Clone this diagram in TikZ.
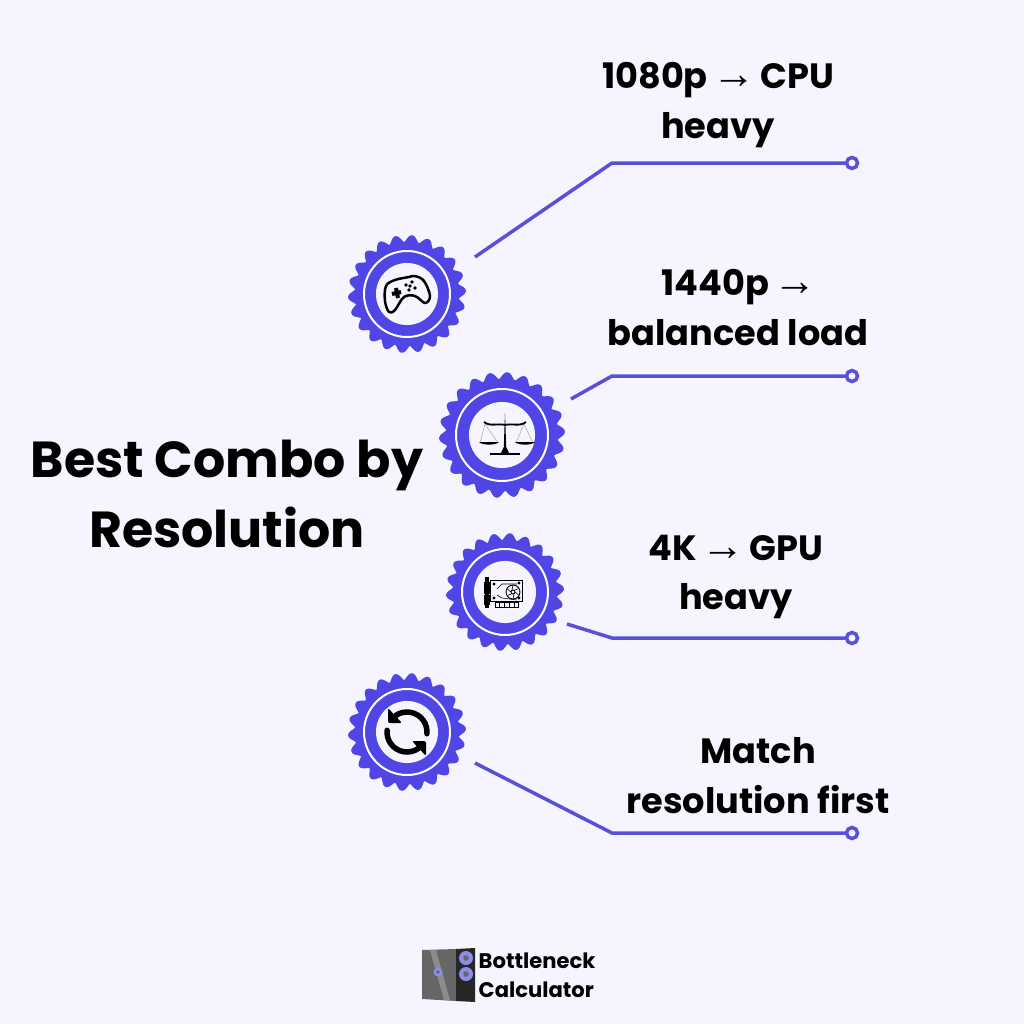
\documentclass[tikz,border=0pt]{standalone}
\usepackage{fontspec}
\setmainfont{Poppins}
\newfontfamily\arrowfont{Liberation Sans}
\usepackage{xcolor}
\usetikzlibrary{positioning}
\definecolor{pagebg}{HTML}{F6F4FE}
\definecolor{gearblue}{HTML}{4F46E5}
\definecolor{linkblue}{HTML}{5A50D8}
\definecolor{fanblue}{HTML}{8E8CEB}
\newcommand{\toarrow}{\kern-0.8pt{\arrowfont\fontsize{12.3}{14.2}\selectfont →}\kern-0.8pt}

\begin{document}
\begin{tikzpicture}[x=0.01cm,y=-0.01cm,
    hub/.style={circle, fill=pagebg, inner sep=0pt},
    pin/.style={circle, draw=linkblue, line width=0.035cm, fill=pagebg, minimum size=0.11cm, inner sep=0pt},
    link/.style={draw=linkblue, line width=0.035cm},
    caption/.style={align=center, text=black, font=\fontsize{10}{14.2}\selectfont\bfseries},
    icon/.style={line width=0.025cm, black, line join=round, line cap=round}]
    % Page
    \fill[pagebg] (0,0) rectangle (1024,1024);
    \useasboundingbox (0,0) rectangle (1024,1024);

    % Gears
    \foreach \name/\cx/\cy/\outer/\ring/\inner in {gear1/407/294/59/43/31, gear2/502/435/63/46/33, gear3/505/592/59/43/31, gear4/407/732/59/43/31} {
        \filldraw[gearblue, line width=0.03cm, line join=round] plot[domain=0:360, samples=265, smooth] ({\cx+(\outer-5+3.5*cos(22*(\x+85)))*cos(\x)},{\cy+(\outer-5+3.5*cos(22*(\x+85)))*sin(\x)}) -- cycle;
        \draw[white, line width=0.02cm] (\cx,\cy) circle (\ring);
        \node[hub, minimum size=\inner*0.02cm] (\name) at (\cx,\cy) {};
    }

    % Gamepad
    \begin{scope}[shift={(gear1)}]
        \draw[icon] plot[smooth cycle, tension=0.6] coordinates {(-21,-8) (-12,-14) (2,-17) (8,-18) (17,-13) (23,2) (18,9) (8,2) (-3,3) (-12,16) (-18,18) (-22,7)};
        \draw[black, line width=0.04cm] (-15,0) -- (-6,-2) (-11,-6) -- (-9,4);
        \foreach \bx/\by in {-1/-9, 5/-12, 8/-6, 2/-4, 3/-8} {
            \fill (\bx,\by) circle (1.8);
        }
    \end{scope}

    % Scales
    \begin{scope}[shift={(gear2)}]
        \draw[black!35, line width=0.005cm] (-17,-11) -- (-22,8) (-17,-11) -- (-4,8) (22,-11) -- (14,8) (22,-11) -- (31,8);
        \fill (3,-22) -- (4.2,12) -- (7,18) -- (-1,18) -- (1.8,12) -- cycle;
        \draw[black, line width=0.015cm] (-12,19) -- (18,19);
        \draw[black, line width=0.018cm] (-18,-13) .. controls (-12,-8) and (-3,-12) .. (3,-10) .. controls (9,-12) and (18,-8) .. (24,-13);
        \fill (-23,7) -- (-3,7) .. controls (-6,10.5) and (-20,10.5) .. (-23,7) -- cycle;
        \fill (13,7) -- (33,7) .. controls (30,10.5) and (16,10.5) .. (13,7) -- cycle;
    \end{scope}

    % Graphics card
    \begin{scope}[shift={(gear3)}]
        \draw[black, line width=0.01cm] (-15,-12) rectangle (17,9);
        \fill (-20,-15) rectangle (-16,16);
        \draw[black, line width=0.008cm] (-21,-10) rectangle (-16,1) (-21,3) rectangle (-16,12);
        \draw[black, line width=0.008cm] (-10,10) rectangle (13,15);
        \foreach \tx in {-6,-1,4,9} {
            \draw[black, line width=0.006cm] (\tx,10) -- (\tx,15);
        }
        \draw[black, line width=0.009cm] (8,0) circle (7) (8,0) circle (2);
        \foreach \ba in {0,60,...,300} {
            \draw[black, line width=0.006cm] (8,0) ++(\ba:2) -- ++(\ba+40:5);
        }
        \draw[black, line width=0.006cm] (-8,-3) -- (-3,-8) -- (12,-8) (-8,3) -- (-3,6) -- (12,8);
        \foreach \hx/\hy in {-11/-8, 14/-9, -11/6, 14/6} {
            \fill (\hx,\hy) circle (1.6);
        }
    \end{scope}

    % Refresh arrows
    \begin{scope}[shift={(gear4)}]
        \draw[black, line width=0.055cm, line cap=round] (235:20) arc (235:365:20);
        \draw[black, line width=0.055cm, line cap=round] (55:20) arc (55:185:20);
        \fill[rounded corners=0.02cm] (-19,-24) -- (-19,-9) -- (-5,-9) -- cycle;
        \fill[rounded corners=0.02cm] (19,24) -- (19,9) -- (5,9) -- cycle;
    \end{scope}

    % Pins and elbows
    \foreach \num/\sx/\sy/\ex/\ey in {1/475/257/612/163, 2/571/399/612/376, 3/567/624/612/638, 4/475/763/612/833} {
        \coordinate (start\num) at (\sx,\sy);
        \coordinate (elbow\num) at (\ex,\ey);
        \node[pin] (pin\num) at (852,\ey) {};
        \draw[link] (start\num) -- (elbow\num) -- (pin\num);
    }

    % Captions
    \node[caption] (label1) at (718,105) {1080p \toarrow{} CPU\\heavy};
    \node[caption] (label2) at (738,308) {1440p \toarrow\\balanced load};
    \node[caption] (label3) at (736,577) {4K \toarrow{} GPU\\heavy};
    \node[caption] (label4) at (758,776) {Match\\resolution first};
    \node[align=center, font=\fontsize{14.4}{19.9}\selectfont\bfseries] (title) at (227,494) {Best Combo by\\Resolution};

    % Logo
    \fill[black!60] (422,950) -- (456,949) -- (456,1001) -- (422,999) -- cycle;
    \fill[black!45] (430,950) -- (436,950) -- (450,1000) -- (444,1000) -- cycle;
    \fill[black!85] (456,949) -- (475,948) -- (475,1002) -- (456,1001) -- cycle;
    \foreach \fx/\fy/\fr in {466/958/7, 466/974/7, 438/972/4.5} {
        \fill[fanblue] (\fx,\fy) circle (\fr);
        \fill[black!60] (\fx,\fy) circle (\fr*0.4);
    }
    \node[anchor=west, inner sep=0pt, align=left, font=\fontsize{6}{8.25}\selectfont\bfseries] (logo) at (478,975) {Bottleneck\\Calculator};
\end{tikzpicture}
\end{document}
